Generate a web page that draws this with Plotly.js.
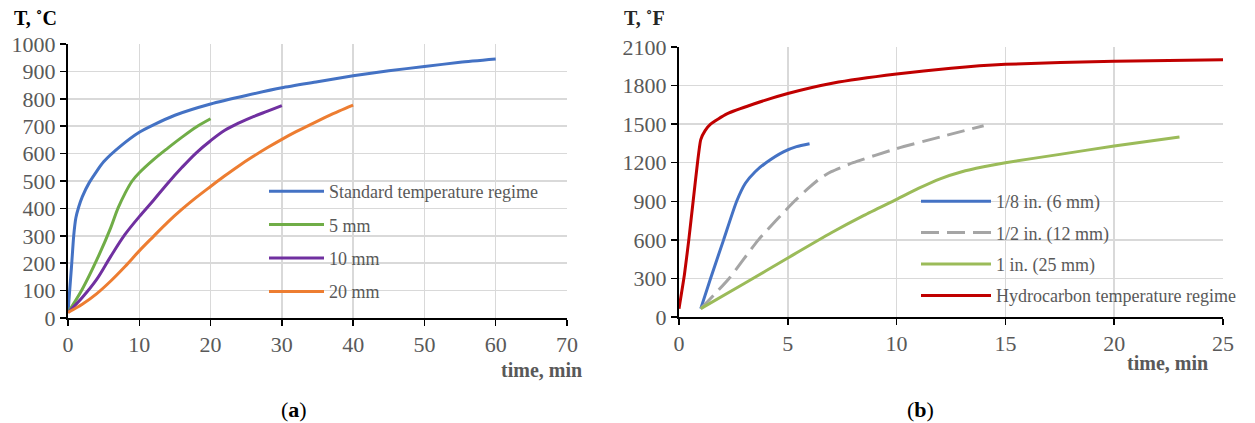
<!DOCTYPE html>
<html><head><meta charset="utf-8">
<script src="https://cdn.plot.ly/plotly-3.0.1.min.js"></script>
<style>html,body{margin:0;padding:0;background:#fff}</style>
</head><body>
<div id="chart" style="width:1255px;height:423px"></div>
<script>
// ---- Chart (a): temperature, °C vs time, min ----
const stdT = [0,0.5,0.8,1.1,1.5,2,3,5,7.5,10,12,15,20,25,30,35,40,45,50,55,60];
const stdV = [20,190,300,365,405,442,495,570,630,678,705,740,781,812,840,862,884,902,918,933,945];
const mm5T = [0,2,4,6,7,8,9,10,12,14,16,18,20];
const mm5V = [20,105,210,330,400,455,500,530,578,620,660,697,727];
const mm10T = [0,2,4,6,8,10,12,14,16,18,20,22,24,26,28,30];
const mm10V = [20,75,140,225,305,370,430,492,550,603,647,685,712,735,755,775];
const mm20T = [0,2,4,6,8,10,12,14,16,18,20,22,24,26,28,30,32,34,36,38,40];
const mm20V = [20,50,88,135,188,245,298,350,397,440,480,519,556,590,622,652,680,706,731,755,777];

// ---- Chart (b): temperature, °F vs time, min ----
const in18T = [1,1.45,2.05,2.65,3.05,3.5,4,4.8,5.4,6];
const in18V = [65,300,600,900,1040,1130,1200,1285,1325,1348];
const in12T = [1,2.3,3.65,5.3,6,6.5,7,8,10,12,14];
const in12V = [65,300,600,900,1010,1080,1130,1200,1310,1400,1488];
const in1T = [1,3,5,7,8.5,10,11,12,13,14,15,17.5,20,23];
const in1V = [65,260,459,655,790,915,1000,1075,1130,1168,1200,1265,1330,1400];
const hcT = [0,0.25,0.45,0.65,0.85,1.0,1.2,1.45,2.2,3.4,5,7.1,10,12.5,15,20,25];
const hcV = [65,330,600,900,1200,1380,1450,1500,1580,1655,1738,1820,1890,1935,1965,1990,2000];

const namesA = ['Standard temperature regime','5 mm','10 mm','20 mm'];
const namesB = ['1/8 in. (6 mm)','1/2 in. (12 mm)','1 in. (25 mm)','Hydrocarbon temperature regime'];

const serif = 'Liberation Serif, Times New Roman, serif';
const W = 1255, H = 423;
const px = x => x / W, py = y => 1 - y / H;

function tr(x, y, name, color, axis, leg, group, dash, sm) {
  return {x: x, y: y, name: name, type: 'scatter', mode: 'lines',
    line: {color: color, width: 3, shape: 'spline', smoothing: sm || 0.6, dash: dash || 'solid'},
    xaxis: axis[0], yaxis: axis[1], legend: leg, legendgroup: group, hoverinfo: 'skip'};
}

const traces = [
  tr(stdT, stdV, namesA[0], '#4472C4', ['x','y'], 'legend', 'a1'),
  tr(mm5T, mm5V, namesA[1], '#70AD47', ['x','y'], 'legend', 'a2', null, 1),
  tr(mm10T, mm10V, namesA[2], '#7030A0', ['x','y'], 'legend', 'a3', null, 1),
  tr(mm20T, mm20V, namesA[3], '#ED7D31', ['x','y'], 'legend', 'a4', null, 1),
  tr(in18T, in18V, namesB[0], '#4472C4', ['x2','y2'], 'legend2', 'b1'),
  tr(in12T, in12V, namesB[1], '#A5A5A5', ['x2','y2'], 'legend2', 'b2', '18px,8px'),
  tr(in1T, in1V, namesB[2], '#9BBB59', ['x2','y2'], 'legend2', 'b3'),
  tr(hcT, hcV, namesB[3], '#C00000', ['x2','y2'], 'legend2', 'b4', null, 0.5)
];

const tickFont = {family: serif, size: 22, color: '#595959'};
function ax(domain, range, dtick, anchor) {
  return {domain: domain, range: range, dtick: dtick, tick0: 0, anchor: anchor,
    showgrid: true, gridcolor: '#D9D9D9', gridwidth: 1.5,
    zeroline: false, showline: true, linecolor: '#000', linewidth: 2,
    ticks: 'outside', ticklen: 6, tickwidth: 1.5, tickcolor: '#000',
    tickfont: tickFont, fixedrange: true};
}

const legFont = {family: serif, size: 18, color: '#595959'};
function ann(text, x, y, size, color) {
  return {text: text, x: px(x), y: py(y), xref: 'paper', yref: 'paper', showarrow: false,
    xanchor: 'center', yanchor: 'middle', font: {family: serif, size: size, color: color}};
}
const layout = {
  width: W, height: H, autosize: false,
  margin: {l: 0, r: 0, t: 0, b: 0},
  paper_bgcolor: '#fff', plot_bgcolor: '#fff',
  showlegend: true,
  xaxis: ax([px(68), px(567)], [0, 70], 10, 'y'),
  yaxis: ax([py(318), py(44)], [0, 1000], 100, 'x'),
  xaxis2: ax([px(679), px(1223)], [0, 25], 5, 'y2'),
  yaxis2: ax([py(317), py(47)], [0, 2100], 300, 'x2'),
  legend: {x: px(264), y: py(173), xanchor: 'left', yanchor: 'top', bgcolor: 'rgba(0,0,0,0)',
    font: legFont, itemwidth: 55, tracegroupgap: 7, traceorder: 'grouped', itemclick: false},
  legend2: {x: px(916), y: py(183), xanchor: 'left', yanchor: 'top', bgcolor: 'rgba(0,0,0,0)',
    font: legFont, itemwidth: 70, tracegroupgap: 5, traceorder: 'grouped', itemclick: false},
  annotations: [
    ann('<b>T, ˚C</b>', 35, 18, 20, '#000'),
    ann('<b>time, min</b>', 541, 370, 20, '#595959'),
    ann('<b>T, ˚F</b>', 644, 18, 20, '#262626'),
    ann('<b>time, min</b>', 1167, 363, 20, '#595959'),
    ann('(<b>a</b>)', 294, 409, 22, '#000'),
    ann('(<b>b</b>)', 920, 409, 22, '#000')
  ]
};

Plotly.newPlot('chart', traces, layout, {staticPlot: true, displayModeBar: false});
</script>
</body></html>
